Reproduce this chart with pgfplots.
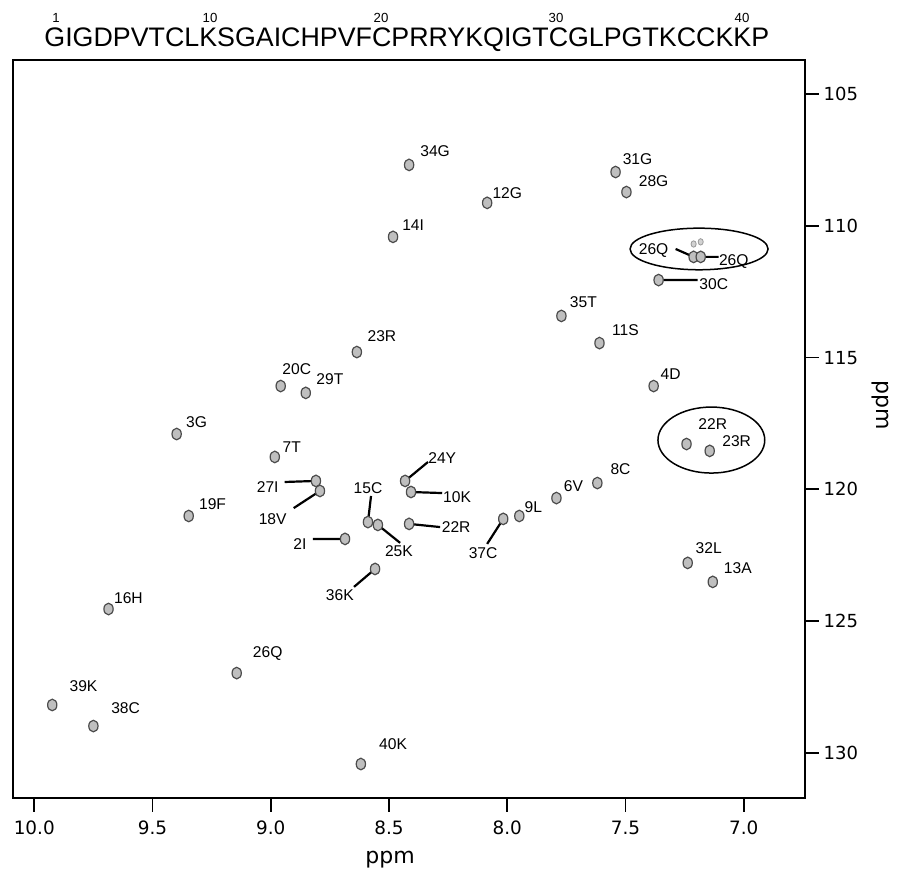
\documentclass[border=0pt]{standalone}
\usepackage{fontspec}
\setmainfont{Liberation Sans}
\newfontfamily\dejavu{DejaVu Sans}
\usepackage{pgfplots}
\pgfplotsset{compat=1.18}
\usepackage{pgfplotstable}

% HSQC peak positions (1H ppm, 15N ppm)
\pgfplotstableread{
x y
8.415 107.69
8.085 109.13
8.483 110.42
8.636 114.79
8.958 116.08
8.852 116.34
7.542 107.96
7.496 108.72
7.212 111.18
7.182 111.18
7.360 112.06
7.771 113.42
7.610 114.45
7.381 116.08
9.398 117.90
8.983 118.77
8.809 119.68
8.792 120.06
9.347 121.01
8.589 121.24
8.547 121.35
8.432 119.68
8.407 120.10
8.415 121.31
8.686 121.88
8.559 123.02
8.017 121.12
7.242 118.28
7.144 118.54
7.619 119.76
7.792 120.33
7.949 121.01
7.237 122.79
7.131 123.51
9.686 124.54
9.144 126.97
9.924 128.18
9.750 128.98
8.619 130.42
}\peaks

\pgfplotstableread{
x y
7.212 110.69
7.182 110.61
}\faint

\begin{document}
\begin{tikzpicture}
\path[use as bounding box] (-6.5pt,-37.5pt) rectangle (442.5pt,399pt);
\begin{axis}[
  at={(0,0)}, anchor=south west,
  scale only axis, width=396pt, height=369pt,
  x dir=reverse, y dir=reverse,
  xmin=6.741, xmax=10.090, ymin=103.71, ymax=131.71,
  axis line style={line width=0.9pt},
  xtick={7.0,7.5,8.0,8.5,9.0,9.5,10.0},
  ytick={105,110,115,120,125,130},
  xtick pos=bottom, ytick pos=right,
  yticklabel pos=right,
  tick align=outside,
  major tick length=6.8pt,
  tick style={line width=0.9pt, black},
  /pgf/number format/assume math mode=true,
  xticklabel={\pgfmathprintnumber[fixed,fixed zerofill,precision=1]{\tick}},
  yticklabel={\pgfmathprintnumber[fixed,precision=0]{\tick}},
  xticklabel style={font=\dejavu\fontsize{9.2}{11}\selectfont, yshift=-1pt},
  yticklabel style={font=\dejavu\fontsize{9}{11}\selectfont, xshift=-1pt},
  clip=false,
]
% leader lines
\addplot[black, line width=1.1pt, no markers] table {
x y
7.288 110.88
7.212 111.18

7.182 111.18
7.106 111.18

7.360 112.06
7.195 112.06

8.941 119.72
8.809 119.68

8.903 120.71
8.792 120.06

8.576 120.25
8.589 121.24

8.547 121.35
8.453 122.03

8.432 119.68
8.335 118.96

8.407 120.10
8.275 120.14

8.415 121.31
8.284 121.43

8.822 121.88
8.686 121.88

8.559 123.02
8.648 123.70

8.017 121.12
8.085 122.07
};
% faint peaks
\addplot[only marks, mark=*, mark size=1.6pt,
  mark options={xscale=0.8, fill=gray!35, draw=gray!80, line width=0.4pt}] table {\faint};
% peaks
\addplot[only marks, mark=*, mark size=2.9pt,
  mark options={xscale=0.8, fill=gray!50, draw=black!70, line width=0.6pt}] table {\peaks};

\coordinate (e1) at (axis cs:7.189,110.88);
\coordinate (e2) at (axis cs:7.137,118.13);

\begin{scope}[every node/.style={font=\fontsize{7.8}{9}\selectfont, inner sep=0pt}]
\node at (axis cs:8.305,107.16) {34G};
\node at (axis cs:8.000,108.76) {12G};
\node at (axis cs:8.398,109.97) {14I};
\node at (axis cs:8.530,114.18) {23R};
\node at (axis cs:8.890,115.43) {20C};
\node at (axis cs:8.750,115.81) {29T};
\node at (axis cs:7.449,107.47) {31G};
\node at (axis cs:7.381,108.30) {28G};
\node at (axis cs:7.381,110.92) {26Q};
\node at (axis cs:7.042,111.37) {26Q};
\node at (axis cs:7.127,112.21) {30C};
\node at (axis cs:7.678,112.89) {35T};
\node at (axis cs:7.500,113.95) {11S};
\node at (axis cs:7.309,115.62) {4D};
\node at (axis cs:9.314,117.44) {3G};
\node at (axis cs:8.911,118.39) {7T};
\node at (axis cs:9.013,119.91) {27I};
\node at (axis cs:8.992,121.12) {18V};
\node at (axis cs:9.246,120.55) {19F};
\node at (axis cs:8.589,119.95) {15C};
\node at (axis cs:8.458,122.34) {25K};
\node at (axis cs:8.275,118.81) {24Y};
\node at (axis cs:8.212,120.29) {10K};
\node at (axis cs:8.216,121.43) {22R};
\node at (axis cs:8.877,122.07) {2I};
\node at (axis cs:8.708,124.01) {36K};
\node at (axis cs:8.102,122.41) {37C};
\node at (axis cs:7.131,117.52) {22R};
\node at (axis cs:7.030,118.16) {23R};
\node at (axis cs:7.521,119.23) {8C};
\node at (axis cs:7.720,119.87) {6V};
\node at (axis cs:7.890,120.67) {9L};
\node at (axis cs:7.148,122.22) {32L};
\node at (axis cs:7.025,122.98) {13A};
\node at (axis cs:9.602,124.12) {16H};
\node at (axis cs:9.013,126.24) {26Q};
\node at (axis cs:9.792,127.46) {39K};
\node at (axis cs:9.614,128.29) {38C};
\node at (axis cs:8.483,129.66) {40K};
\end{scope}
\end{axis}

\draw[line width=0.75pt] (e1) ellipse [x radius=34.5pt, y radius=10.4pt];
\draw[line width=0.75pt] (e2) ellipse [x radius=26.7pt, y radius=16.5pt];

% axis titles
\node[font=\dejavu\fontsize{11}{13}\selectfont] at (188.5pt,-31pt) {ppm};
\node[font=\dejavu\fontsize{11}{13}\selectfont, rotate=-90] at (433.5pt,196.5pt) {ppm};

% sequence
\node[anchor=base west, inner sep=0pt, font=\fontsize{13.4}{16}\selectfont] at (15.5pt,375.5pt) {GIGDPVTCLKSGAICHPVFCPRRYKQIGTCGLPGTKCCKKP};
\begin{scope}[every node/.style={font=\fontsize{6.6}{7}\selectfont, inner sep=0pt}]
\node at (21.5pt,390pt) {1};
\node at (98.5pt,390pt) {10};
\node at (184pt,390pt) {20};
\node at (271.5pt,390pt) {30};
\node at (364.5pt,390pt) {40};
\end{scope}
\end{tikzpicture}
\end{document}
